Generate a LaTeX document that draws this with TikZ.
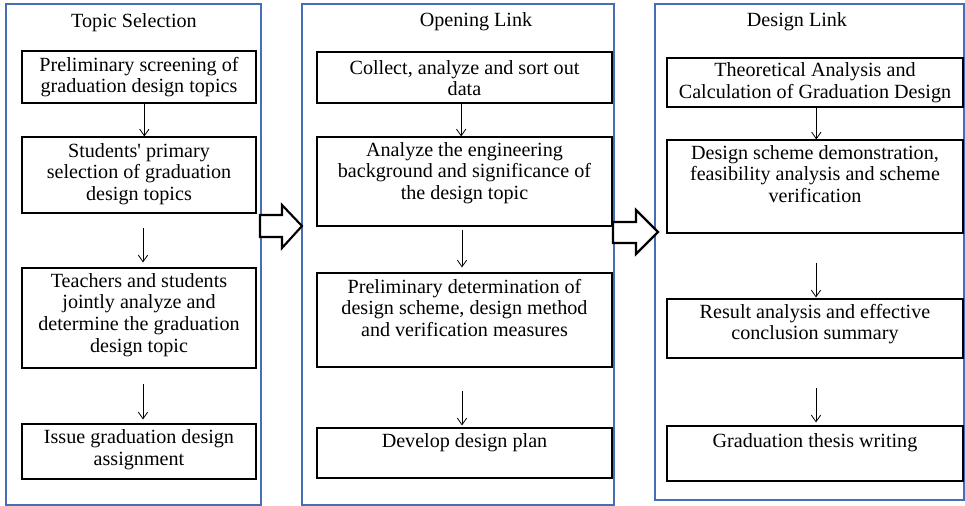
\documentclass[tikz,border=0pt]{standalone}
\usepackage{fontspec}
\setmainfont{Liberation Serif}
\usetikzlibrary{arrows.meta,fit}
\definecolor{panelblue}{RGB}{70,110,180}
\begin{document}
\begin{tikzpicture}[x=0.75pt,y=-0.75pt,
  panel/.style={draw=panelblue,line width=1.1pt,inner sep=0pt},
  stepbox/.style={draw=black,line width=0.8pt,inner sep=0pt},
  txt/.style={align=center,inner sep=0pt,font=\fontsize{15.1}{16.3}\selectfont},
  ttl/.style={inner sep=0pt,font=\fontsize{15.1}{16.3}\selectfont},
  flow/.style={-{Straight Barb[length=5pt,width=7pt,line width=0.6pt]},line width=0.6pt},
  bigarrow/.style={draw=black,line width=1.6pt,fill=white,line join=miter}]
\useasboundingbox (0,0) rectangle (965,506);

% panels
\node[panel, fit={(6,4) (261,505)}] (P1) {};
\node[panel, fit={(302,4) (614,505)}] (P2) {};
\node[panel, fit={(655,4) (964,500)}] (P3) {};

% titles
\node[ttl] (T1) at (134,23) {Topic Selection};
\node[ttl] (T2) at (476,22) {Opening Link};
\node[ttl] (T3) at (797,22) {Design Link};

% panel 1 boxes
\node[stepbox, fit={(22,51) (256,103)}] (A1) {};
\node[stepbox, fit={(22,137) (256,213)}] (A2) {};
\node[stepbox, fit={(22,268) (256,368)}] (A3) {};
\node[stepbox, fit={(22,424) (256,479)}] (A4) {};
\node[txt] (tA1) at (139,77) {Preliminary screening of\\graduation design topics};
\node[txt] (tA2) at (139,174) {Students\textquotesingle{} primary\\selection of graduation\\design topics};
\node[txt] (tA3) at (139,315) {Teachers and students\\jointly analyze and\\determine the graduation\\design topic};
\node[txt] (tA4) at (139,450) {Issue graduation design\\assignment};

% panel 2 boxes
\node[stepbox, fit={(317,52) (612,103)}] (B1) {};
\node[stepbox, fit={(317,137) (612,226)}] (B2) {};
\node[stepbox, fit={(317,273) (612,367)}] (B3) {};
\node[stepbox, fit={(317,428) (612,478)}] (B4) {};
\node[txt] (tB1) at (464.5,78) {Collect, analyze and sort out\\data};
\node[txt] (tB2) at (464.5,173) {Analyze the engineering\\background and significance of\\the design topic};
\node[txt] (tB3) at (464.5,308) {Preliminary determination of\\design scheme, design method\\and verification measures};
\node[txt] (tB4) at (464.5,443) {Develop design plan};

% panel 3 boxes
\node[stepbox, fit={(667,58) (963,107)}] (C1) {};
\node[stepbox, fit={(667,140) (963,233)}] (C2) {};
\node[stepbox, fit={(667,299) (963,358)}] (C3) {};
\node[stepbox, fit={(667,426) (963,481)}] (C4) {};
\node[txt] (tC1) at (815,83) {Theoretical Analysis and\\Calculation of Graduation Design};
\node[txt] (tC2) at (815,174) {Design scheme demonstration,\\feasibility analysis and scheme\\verification};
\node[txt] (tC3) at (815,324) {Result analysis and effective\\conclusion summary};
\node[txt] (tC4) at (815,443) {Graduation thesis writing};

% small flow arrows
\draw[flow] ([xshift=4]A1.south) -- ([xshift=4]A2.north);
\draw[flow] ([shift={(4,14)}]A2.south) -- ([shift={(4,-5)}]A3.north);
\draw[flow] ([shift={(4,15)}]A3.south) -- ([shift={(4,-4)}]A4.north);

\draw[flow] ([xshift=-2.5]B1.south) -- ([xshift=-2.5]B2.north);
\draw[flow] ([shift={(-2.5,3)}]B2.south) -- ([shift={(-2.5,-5)}]B3.north);
\draw[flow] ([shift={(-2.5,23)}]B3.south) -- ([shift={(-2.5,-2)}]B4.north);

\draw[flow] ([xshift=1]C1.south) -- ([xshift=1]C2.north);
\draw[flow] ([shift={(1,29)}]C2.south) -- ([shift={(1,-1)}]C3.north);
\draw[flow] ([shift={(1,29)}]C3.south) -- ([shift={(1,-3)}]C4.north);

% big hollow arrows between panels
\draw[bigarrow] (260,215) -- (282,215) -- (282,205) -- (302,226) -- (282,248) -- (282,237) -- (260,237) -- cycle;
\draw[bigarrow] (613,222) -- (636,222) -- (636,210) -- (658,232) -- (636,254) -- (636,243) -- (613,243) -- cycle;
\end{tikzpicture}
\end{document}
